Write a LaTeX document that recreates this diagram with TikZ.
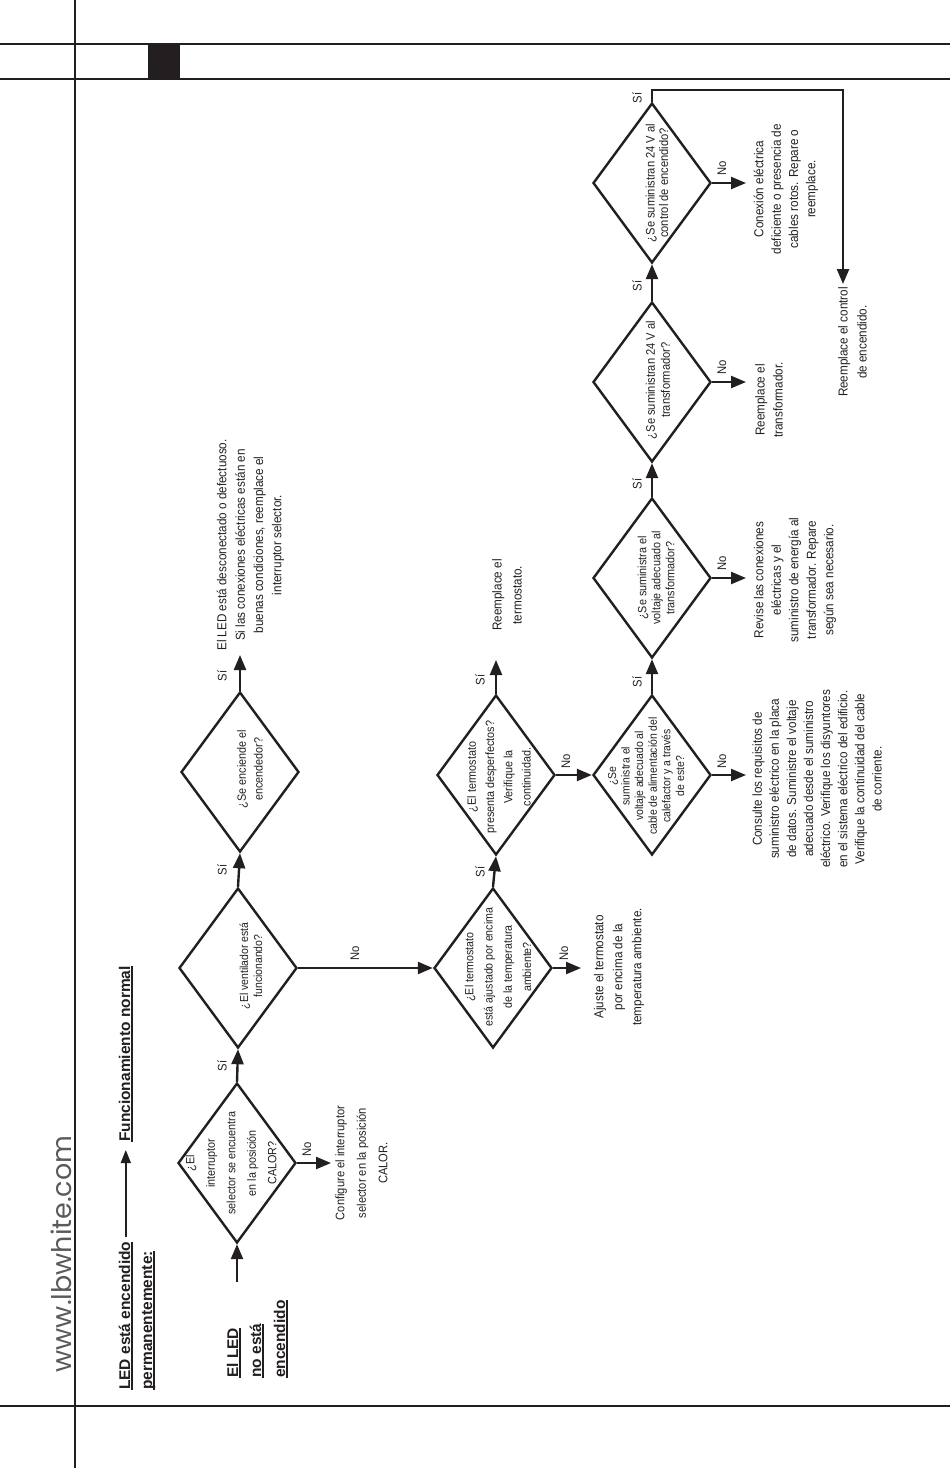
\documentclass[tikz,border=0pt]{standalone}
\usepackage{fontspec}
\setmainfont{Liberation Sans}
\newfontfamily\narrowf[FakeStretch=0.9]{Liberation Sans}
\newfontfamily\webf{Poppins}
\usetikzlibrary{arrows.meta,shapes.geometric,calc}
\definecolor{ink}{HTML}{231F20}
\definecolor{webgray}{HTML}{5A5A5C}
\newcommand\myul[1]{\setbox0\hbox{#1}\rlap{\rule[-3pt]{\wd0}{1.6pt}}\box0}
\begin{document}
\begin{tikzpicture}[x=1pt,y=-1pt,
  frame/.style={draw=ink, line width=1.2pt},
  dia/.style={draw=ink, line width=2.4pt, shape=diamond, minimum width=118pt, minimum height=160pt, inner sep=0pt},
  arr/.style={draw=ink, line width=2.4pt, -{Triangle[length=15pt,width=12pt]}},
  harr/.style={draw=ink, line width=1.4pt, -{Triangle[length=13pt,width=10pt]}},
  txt/.style={rotate=90, align=center, inner sep=0pt, text=ink},
  lbl/.style={rotate=90, inner sep=0pt, text=ink, font=\narrowf\fontsize{12.5}{14}\selectfont},
  hd/.style={rotate=90, anchor=base west, inner sep=0pt, text=ink, font=\bfseries\fontsize{15.5}{18}\selectfont}]
\useasboundingbox (0,0) rectangle (950,1468);
% page frame
\draw[frame] (75,0) -- (75,1468);
\draw[frame] (0,44) -- (950,44);
\draw[frame] (0,79) -- (950,79);
\draw[frame] (0,1406) -- (950,1406);
\fill[ink] (148,44) rectangle (180,79);
\node[rotate=90, inner sep=0pt, text=webgray, font=\webf\fontsize{27}{30}\selectfont] (web) at (61,1254) {www.lbwhite.com};
% headings
\node[hd] (h1) at (130,1390) {\myul{LED está encendido}};
\node[hd] (h2) at (152,1390) {\myul{permanentemente:}};
\node[hd] (h3) at (130,1142) {\myul{Funcionamiento normal}};
\draw[harr, shorten <=4pt, shorten >=8pt] (h1.east) -- (h1.east |- h3.west);
\node[hd] (e1) at (238,1378) {\myul{El LED}};
\node[hd] (e2) at (261,1378) {\myul{no está}};
\node[hd] (e3) at (285,1378) {\myul{encendido}};
% diamonds
\node[dia] (d1) at (237,1163) {};
\node[dia] (d2) at (238,968) {};
\node[dia] (d3) at (240,772) {};
\node[dia] (d4) at (493,968) {};
\node[dia] (d5) at (496,775) {};
\node[dia] (d6) at (652,775) {};
\node[dia] (d7) at (652,578) {};
\node[dia] (d8) at (652,382) {};
\node[dia] (d9) at (652,183) {};
% diamond texts
\node[txt, font=\narrowf\fontsize{12}{20.5}\selectfont] (d1t) at (231,1163) {¿El\\interruptor\\selector se encuentra\\en la posición\\CALOR?};
\node[txt, font=\narrowf\fontsize{11.6}{14}\selectfont] (d2t) at (251,966) {¿El ventilador está\\funcionando?};
\node[txt, font=\narrowf\fontsize{12}{16.6}\selectfont] (d3t) at (250,769) {¿Se enciende el\\encendedor?};
\node[txt, font=\narrowf\fontsize{11.8}{19.3}\selectfont] (d4t) at (498,967) {¿El termostato\\está ajustado por encima\\de la temperatura\\ambiente?};
\node[txt, font=\narrowf\fontsize{12}{18.3}\selectfont] (d5t) at (499,777) {¿El termostato\\presenta desperfectos?\\Verifique la\\continuidad.};
\node[txt, font=\narrowf\fontsize{11.6}{13.6}\selectfont] (d6t) at (646,776) {¿Se\\suministra el\\voltaje adecuado al\\cable de alimentación del\\calefactor y a través\\de este?};
\node[txt, font=\narrowf\fontsize{12}{14}\selectfont] (d7t) at (656,578) {¿Se suministra el\\voltaje adecuado al\\transformador?};
\node[txt, font=\narrowf\fontsize{12.4}{15}\selectfont] (d8t) at (658,380) {¿Se suministran 24 V al\\transformador?};
\node[txt, font=\narrowf\fontsize{12.4}{13.6}\selectfont] (d9t) at (657,183) {¿Se suministran 24 V al\\control de encendido?};
% outcome texts
\node[txt, font=\narrowf\fontsize{12.4}{21.5}\selectfont] (t1) at (361.5,1163) {Configure el interruptor\\selector en la posición\\CALOR.};
\node[txt, font=\narrowf\fontsize{13}{18.3}\selectfont] (t2) at (250.5,545) {El LED está desconectado o defectuoso.\\Si las conexiones eléctricas están en\\buenas condiciones, reemplace el\\interruptor selector.};
\node[txt, font=\narrowf\fontsize{13}{19}\selectfont] (t3) at (619,967) {Ajuste el termostato\\por encima de la\\temperatura ambiente.};
\node[txt, font=\narrowf\fontsize{13}{20}\selectfont] (t4) at (507,595) {Reemplace el\\termostato.};
\node[txt, font=\narrowf\fontsize{13}{17.1}\selectfont] (t5) at (817,779) {Consulte los requisitos de\\suministro eléctrico en la placa\\de datos. Suministre el voltaje\\adecuado desde el suministro\\eléctrico. Verifique los disyuntores\\en el sistema eléctrico del edificio.\\Verifique la continuidad del cable\\de corriente.};
\node[txt, font=\narrowf\fontsize{13}{17.5}\selectfont] (t6) at (795,580) {Revise las conexiones\\eléctricas y el\\suministro de energía al\\transformador. Repare\\según sea necesario.};
\node[txt, font=\narrowf\fontsize{13}{18}\selectfont] (t7) at (769,400) {Reemplace el\\transformador.};
\node[txt, font=\narrowf\fontsize{13}{17.3}\selectfont] (t8) at (786,189) {Conexión eléctrica\\deficiente o presencia de\\cables rotos. Repare o\\reemplace.};
\node[txt, font=\narrowf\fontsize{13}{19}\selectfont] (t9) at (852.5,342) {Reemplace el control\\de encendido.};
% arrow end points
\coordinate (start) at (237,1282);
\coordinate (n1) at (331,1163);
\coordinate (s3) at (240,655);
\coordinate (n4) at (581,968);
\coordinate (s5) at (496,660);
\coordinate (n6) at (746,775);
\coordinate (n7) at (746,578);
\coordinate (n8) at (746,382);
\coordinate (n9) at (746,183);
\coordinate (top1) at (652,90);
\coordinate (top2) at (843,90);
\coordinate (s9) at (843,284);
% connectors
\draw[arr] (start) -- (d1.south);
\draw[arr] (d1.north) -- (d2.south);
\draw[arr] (d2.north) -- (d3.south);
\draw[arr] (d3.north) -- (s3);
\draw[arr] (d1.east) -- (n1);
\draw[arr] (d2.east) -- (d4.west);
\draw[arr] (d4.north) -- (d5.south);
\draw[arr] (d4.east) -- (n4);
\draw[arr] (d5.north) -- (s5);
\draw[arr] (d5.east) -- (d6.west);
\draw[arr] (d6.north) -- (d7.south);
\draw[arr] (d7.north) -- (d8.south);
\draw[arr] (d8.north) -- (d9.south);
\draw[arr] (d6.east) -- (n6);
\draw[arr] (d7.east) -- (n7);
\draw[arr] (d8.east) -- (n8);
\draw[arr] (d9.east) -- (n9);
\draw[arr] (d9.north) -- (top1) -- (top2) -- (s9);
% labels
\node[lbl] (y1) at (222,1066) {Sí};
\node[lbl] (y2) at (222,870) {Sí};
\node[lbl] (y3) at (222,676) {Sí};
\node[lbl] (y4) at (480,872) {Sí};
\node[lbl] (y5) at (480,680) {Sí};
\node[lbl] (y6) at (637,682) {Sí};
\node[lbl] (y7) at (637,484) {Sí};
\node[lbl] (y8) at (637,286) {Sí};
\node[lbl] (y9) at (637,98) {Sí};
\node[lbl] (m1) at (307,1149) {No};
\node[lbl] (m2) at (355,953) {No};
\node[lbl] (m4) at (564,953) {No};
\node[lbl] (m5) at (566,761) {No};
\node[lbl] (m6) at (722,761) {No};
\node[lbl] (m7) at (722,563) {No};
\node[lbl] (m8) at (722,367) {No};
\node[lbl] (m9) at (722,168) {No};
\end{tikzpicture}
\end{document}
